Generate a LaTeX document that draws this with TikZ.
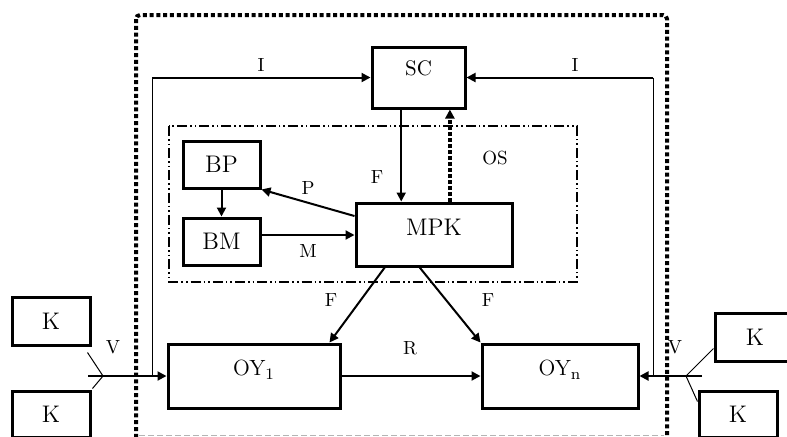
\documentclass[tikz,border=0pt]{standalone}
\usepackage{tikz}
\usetikzlibrary{calc,arrows.meta,positioning}
\definecolor{framegrey}{HTML}{b4b4b4}
\newcommand{\boxfont}{\fontsize{12}{14}\selectfont}
\newcommand{\lblfont}{\fontsize{9.5}{11}\selectfont}

\begin{document}
\begin{tikzpicture}[x=0.5pt, y=-0.5pt,
    blk/.style={draw, line width=1.5pt, inner sep=0pt, font=\boxfont},
    arr/.style={-{Triangle[length=4.5pt,width=4.5pt]}, line width=1pt},
    fine/.style={line width=0.5pt},
    lbl/.style={font=\lblfont, inner sep=0pt}]
  \useasboundingbox (0,0) rectangle (787,436);
  \clip (0,0) rectangle (787,436);
  % frames
  \draw[line width=2pt, dash pattern=on 2pt off 1.4pt, rounded corners=2pt] (136,15) rectangle (667,470);
  \draw[framegrey, line width=0.5pt, dash pattern=on 3pt off 1.5pt] (139,435) -- (664,435);
  \draw[line width=1pt, dash pattern=on 5pt off 1.5pt on 0.8pt off 1.5pt on 0.8pt off 1.5pt] (169,126) rectangle (577,282);
  % blocks
  \node[blk, font=\fontsize{10.5}{12}\selectfont, minimum width=46.5pt, minimum height=30.5pt, text depth=9.5pt] (sc) at (418.5,77.5) {SC};
  \node[blk, minimum width=78pt, minimum height=31.5pt, text depth=7.5pt] (mpk) at (434,234.5) {MPK};
  \node[blk, minimum width=38.5pt, minimum height=23.5pt] (bp) at (221.5,164.5) {BP};
  \node[blk, minimum width=38.5pt, minimum height=23.5pt] (bm) at (221.5,241.5) {BM};
  \node[blk, font=\fontsize{11}{13}\selectfont, minimum width=86pt, minimum height=32pt, text depth=8pt] (oy1) at (254,376) {OY$_\mathrm{1}$};
  \node[blk, font=\fontsize{11}{13}\selectfont, minimum width=78pt, minimum height=32pt, text depth=8pt] (oyn) at (560,376) {OY$_\mathrm{n}$};
  \foreach \nm/\x/\y/\w/\h in {k1/51/321/39/24, k2/51/414/39/23, k3/755/337/40/24, k4/738/414/39/23} {
    \node[blk, minimum width=\w pt, minimum height=\h pt] (\nm) at (\x,\y) {K};
  }
  % inner links
  \coordinate (bmout) at ([yshift=3.25pt]bm.east);
  \coordinate (scout) at ($(sc.south west)!0.32!(sc.south east)$);
  \coordinate (mpkup) at ($(mpk.north west)!0.6!(mpk.north east)$);
  \draw[arr] (bp) -- (bm);
  \draw[arr] (bmout) -- (bmout -| mpk.west);
  \draw[arr] ($(mpk.north west)!0.22!(mpk.south west)$) -- (bp.south east);
  \draw[arr] (scout) -- (scout |- mpk.north);
  \draw[arr, line width=2pt, dash pattern=on 2pt off 1pt] (mpkup) -- (mpkup |- sc.south);
  \draw[arr] ($(mpk.south west)!0.19!(mpk.south east)$) -- ([xshift=-6pt]oy1.north east);
  \draw[arr] ($(mpk.south west)!0.41!(mpk.south east)$) -- (oyn.north west);
  \draw[arr] (oy1) -- (oyn);
  % feedback to SC
  \coordinate (ltop) at (sc.west -| 152,0);
  \coordinate (rtop) at (sc.east -| 653,0);
  \draw[fine] (ltop) -- (ltop |- oy1.west);
  \draw[fine] (rtop) -- (rtop |- oyn.east);
  \draw[arr] (ltop) -- (sc.west);
  \draw[arr] (rtop) -- (sc.east);
  % inputs
  \coordinate (vlin) at (oy1.west -| 88,0);
  \coordinate (vljoin) at (oy1.west -| 103,0);
  \coordinate (vrin) at (oyn.east -| 702,0);
  \coordinate (vrjoin) at (oyn.east -| 686,0);
  \draw[arr] (vlin) -- (oy1.west);
  \draw[arr] (vrin) -- (oyn.east);
  \draw[fine] ($(k1.south east)+(-4,6)$) -- (vljoin) -- ($(k2.north east)+(1,-1)$);
  \draw[fine] ($(k3.south west)+(0,-14)$) -- (vrjoin) -- ($(k4.north west)+(0,12)$);
  % labels
  \node[lbl] (li1) at (261,65) {I};
  \node[lbl] (li2) at (575,65) {I};
  \node[lbl] (lf1) at (377,177) {F};
  \node[lbl] (lp) at (308,188) {P};
  \node[lbl] (lm) at (308,251) {M};
  \node[lbl] (los) at (495,158) {OS};
  \node[lbl] (lf2) at (331,300) {F};
  \node[lbl] (lf3) at (488,300) {F};
  \node[lbl] (lr) at (410,348) {R};
  \node[lbl] (lv1) at (113,347) {V};
  \node[lbl] (lv2) at (675,347) {V};
\end{tikzpicture}
\end{document}
